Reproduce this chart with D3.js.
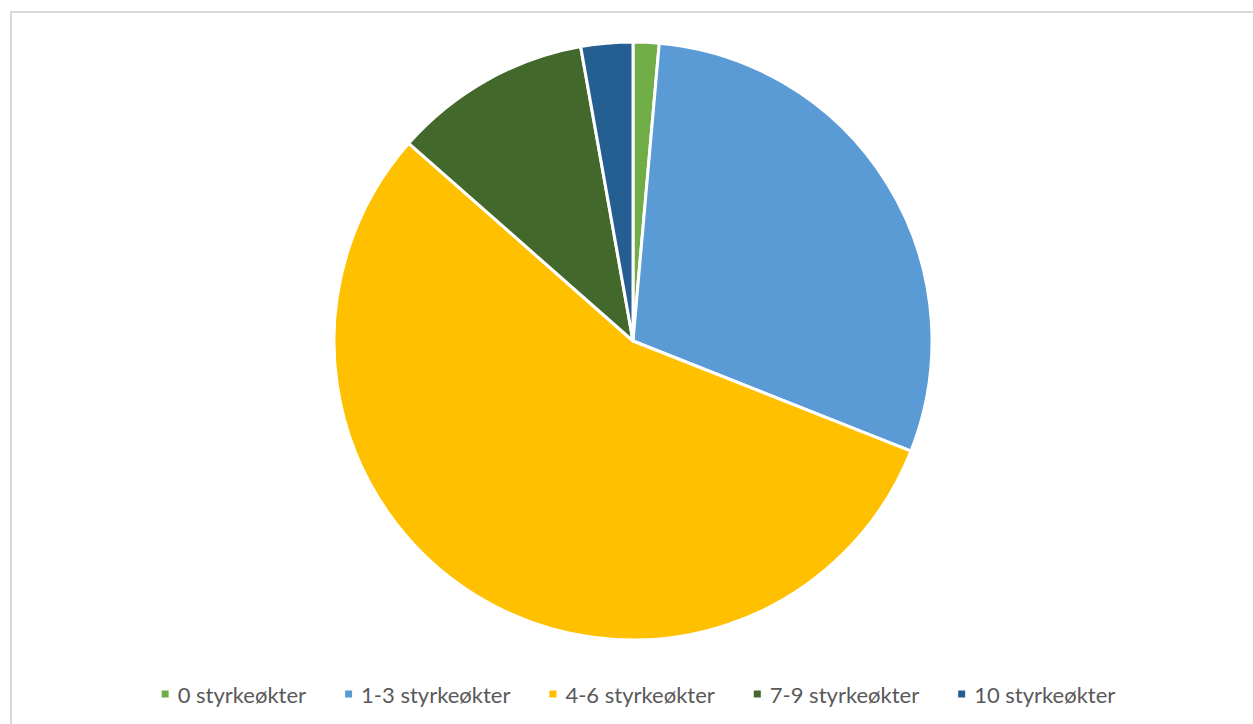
<!DOCTYPE html>
<html>
<head>
<meta charset="utf-8">
<script src="https://cdn.jsdelivr.net/npm/d3@7"></script>
<style>
  html, body { margin: 0; padding: 0; background: #fff; }
  svg { display: block; }
</style>
</head>
<body>
<svg id="chart" width="1253" height="724"></svg>
<script>
// Share of respondents by number of strength sessions (percent)
const categories = ["0 styrkeøkter", "1-3 styrkeøkter", "4-6 styrkeøkter", "7-9 styrkeøkter", "10 styrkeøkter"];
const values = [1.4, 29.6, 55.5, 10.7, 2.8];
const colors = ["#70AD47", "#5B9BD5", "#FFC000", "#43682B", "#255E91"];

const W = 1253, H = 724;
const svg = d3.select("#chart");

// Chart area frame
svg.append("rect")
  .attr("x", 11).attr("y", 12)
  .attr("width", W + 10).attr("height", H + 10)
  .attr("fill", "#fff")
  .attr("stroke", "#d9d9d9")
  .attr("stroke-width", 2);

const cx = 633, cy = 341, radius = 299;

const data = categories.map((c, i) => ({ name: c, value: values[i], color: colors[i] }));

const pie = d3.pie().value(d => d.value).sort(null);
const arc = d3.arc().innerRadius(0).outerRadius(radius);

svg.append("g")
  .attr("transform", `translate(${cx},${cy})`)
  .selectAll("path")
  .data(pie(data))
  .join("path")
  .attr("d", arc)
  .attr("fill", d => d.data.color)
  .attr("stroke", "#fff")
  .attr("stroke-width", 3)
  .attr("stroke-linejoin", "round");

// Legend along the bottom
const legend = svg.append("g").attr("font-family", "Lato, 'Open Sans', sans-serif")
  .attr("font-size", 22).attr("fill", "#595959");
const ly = 694, marker = 7, textGap = 16, itemGap = 39;

const items = legend.selectAll("g.item").data(data).join("g").attr("class", "item");
items.append("rect")
  .attr("width", marker).attr("height", marker)
  .attr("y", ly - marker / 2)
  .attr("fill", d => d.color);
items.append("text")
  .attr("x", textGap)
  .attr("y", ly)
  .attr("dominant-baseline", "central")
  .text(d => d.name);

const widths = [];
items.each(function () {
  widths.push(d3.select(this).select("text").node().getComputedTextLength());
});
const total = d3.sum(widths, w => textGap + w) + itemGap * (widths.length - 1);
let x = 638.5 - total / 2;
items.each(function (d, i) {
  d3.select(this).attr("transform", `translate(${x},0)`);
  x += textGap + widths[i] + itemGap;
});
</script>
</body>
</html>
